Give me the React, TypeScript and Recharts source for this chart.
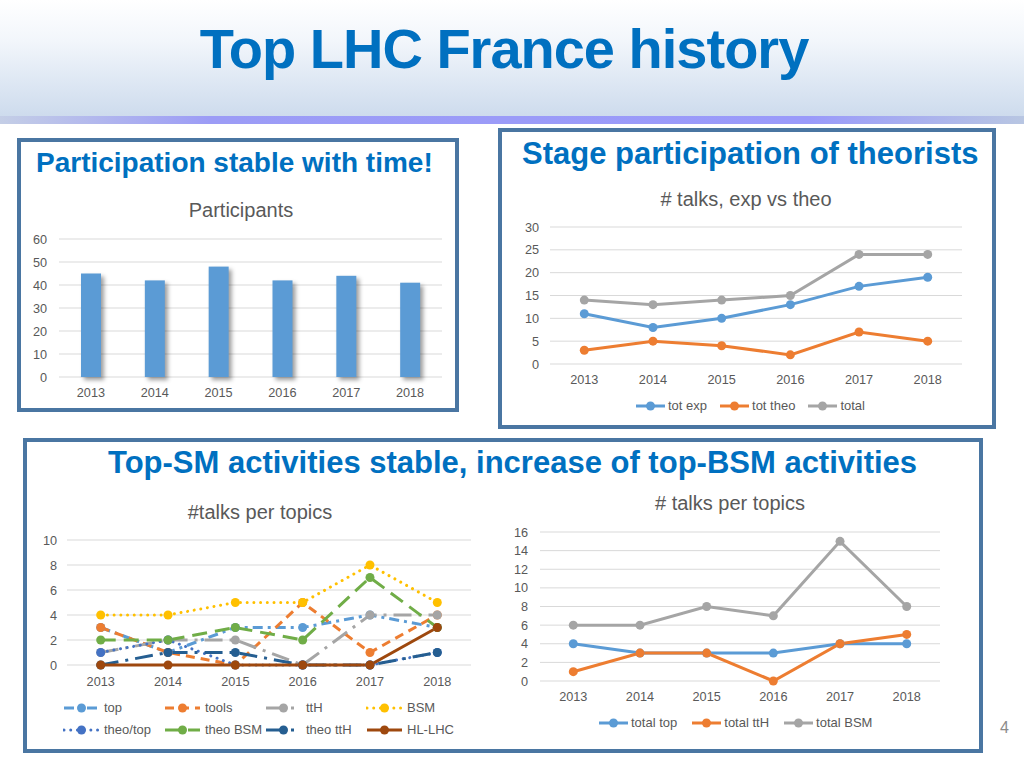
import { BarChart, Bar, LineChart, Line, XAxis, YAxis, CartesianGrid } from 'recharts';

const years = ['2013', '2014', '2015', '2016', '2017', '2018'];

// Participants per year
const participants = [45, 42, 48, 42, 44, 41];

// # talks, exp vs theo
const totExp = [11, 8, 10, 13, 17, 19];
const totTheo = [3, 5, 4, 2, 7, 5];
const totAll = [14, 13, 14, 15, 24, 24];

// #talks per topics (detail)
const topTalks = [3, 1, 3, 3, 4, 3];
const toolsTalks = [3, 1, 0, 5, 1, 4];
const tthTalks = [1, 2, 2, 0, 4, 4];
const bsmTalks = [4, 4, 5, 5, 8, 5];
const theoTopTalks = [1, 2, 0, 0, 0, 1];
const theoBsmTalks = [2, 2, 3, 2, 7, 3];
const theoTthTalks = [0, 1, 1, 0, 0, 1];
const hlLhcTalks = [0, 0, 0, 0, 0, 3];

// # talks per topics (totals)
const totalTop = [4, 3, 3, 3, 4, 4];
const totalTth = [1, 3, 3, 0, 4, 5];
const totalBsm = [6, 6, 8, 7, 15, 8];

const participantTicks = [0, 10, 20, 30, 40, 50, 60];
const expTheoTicks = [0, 5, 10, 15, 20, 25, 30];
const topicTicks = [0, 2, 4, 6, 8, 10];
const totalTicks = [0, 2, 4, 6, 8, 10, 12, 14, 16];

const BLUE = '#5B9BD5';
const ORANGE = '#ED7D31';
const GRAY = '#A5A5A5';
const TEXT = '#595959';
const GRID = '#D9D9D9';
const TITLE = '#0070C0';
const FONT = '"Liberation Sans", Arial, Helvetica, sans-serif';

const participationData = years.map((year, i) => ({ year, participants: participants[i] }));
const expTheoData = years.map((year, i) => ({ year, exp: totExp[i], theo: totTheo[i], total: totAll[i] }));
const topicData = years.map((year, i) => ({
  year,
  top: topTalks[i],
  tools: toolsTalks[i],
  ttH: tthTalks[i],
  BSM: bsmTalks[i],
  theoTop: theoTopTalks[i],
  theoBSM: theoBsmTalks[i],
  theoTtH: theoTthTalks[i],
  hlLhc: hlLhcTalks[i],
}));
const totalData = years.map((year, i) => ({ year, top: totalTop[i], ttH: totalTth[i], BSM: totalBsm[i] }));

const topicSeries = [
  { key: 'top', name: 'top', color: '#5B9BD5', dash: '10 5 3 5', cap: 'butt' },
  { key: 'tools', name: 'tools', color: '#ED7D31', dash: '9 6', cap: 'butt' },
  { key: 'ttH', name: 'ttH', color: '#A5A5A5', dash: '18 7 3 7', cap: 'butt' },
  { key: 'BSM', name: 'BSM', color: '#FFC000', dash: '0.01 6.7', cap: 'round' },
  { key: 'theoTop', name: 'theo/top', color: '#4472C4', dash: '0.01 6.7', cap: 'round' },
  { key: 'theoBSM', name: 'theo BSM', color: '#70AD47', dash: '15 8', cap: 'butt' },
  { key: 'theoTtH', name: 'theo ttH', color: '#255E91', dash: '18 7 3 7', cap: 'butt' },
  { key: 'hlLhc', name: 'HL-LHC', color: '#9E480E', dash: undefined, cap: 'butt' },
];

const tick = { fill: TEXT, fontSize: 12.7, fontFamily: FONT };

function LegendIcon({ color, width, dash, cap }: { color: string; width: number; dash?: string; cap?: string }) {
  return (
    <svg width={width} height={12} style={{ display: 'block', flex: 'none' }}>
      <line x1={1} y1={6} x2={width - 1} y2={6} stroke={color} strokeWidth={3}
        strokeDasharray={dash} strokeLinecap={cap as any} />
      <circle cx={width / 2} cy={6} r={4.5} fill={color} />
    </svg>
  );
}

function LegendItem({ color, label, width, dash, cap, gap }: any) {
  return (
    <div style={{ display: 'flex', alignItems: 'center', marginRight: gap }}>
      <LegendIcon color={color} width={width} dash={dash} cap={cap} />
      <span style={{ marginLeft: 2, fontSize: 13, color: TEXT, lineHeight: '14px', whiteSpace: 'nowrap' }}>{label}</span>
    </div>
  );
}

function ShadowBar(props: any) {
  const { x, y, width, height, fill } = props;
  return (
    <rect x={x} y={y} width={width} height={height} fill={fill}
      style={{ filter: 'drop-shadow(3px 3px 2px rgba(0,0,0,0.38))' }} />
  );
}

function Box({ left, top, width, height }: any) {
  return (
    <div style={{ position: 'absolute', left, top, width, height, border: '4px solid #4A76A2', boxSizing: 'border-box' }} />
  );
}

function Text({ left, top, width, size, bold, color, align, children }: any) {
  return (
    <div style={{
      position: 'absolute', left, top, width, fontSize: size, lineHeight: `${size}px`,
      fontWeight: bold ? 700 : 400, color, textAlign: align || 'left', whiteSpace: 'nowrap',
    }}>{children}</div>
  );
}

export default function App() {
  return (
    <div style={{ position: 'absolute', left: 0, top: 0, width: 1024, height: 768, background: '#fff', overflow: 'hidden', fontFamily: FONT }}>
      {/* header band */}
      <div style={{ position: 'absolute', left: 0, top: 0, width: 1024, height: 117, background: 'linear-gradient(to bottom, #ffffff 0%, #f2f6fb 35%, #cddbed 100%)' }} />
      <div style={{ position: 'absolute', left: 0, top: 116, width: 1024, height: 8, background: 'linear-gradient(to right, #c4cee6 0%, #9c9cf6 20.5%, #9a9afa 79%, #b8c6e2 100%)' }} />
      <div style={{ position: 'absolute', left: 0, top: 21, width: 1008, textAlign: 'center', fontSize: 56, lineHeight: '56px', fontWeight: 700, color: TITLE, letterSpacing: -1 }}>
        Top LHC France history
      </div>

      {/* box 1: participants */}
      <Box left={17} top={138} width={442} height={274} />
      <Text left={36} top={149} size={28} bold color={TITLE}>Participation stable with time!</Text>
      <Text left={91} top={200} width={300} size={20} color={TEXT} align="center">Participants</Text>
      <div style={{ position: 'absolute', left: 20, top: 230 }}>
        <BarChart width={430} height={175} data={participationData} margin={{ top: 9, right: 8, bottom: 8, left: 0 }}>
          <CartesianGrid vertical={false} stroke={GRID} />
          <XAxis dataKey="year" tick={tick} tickLine={false} axisLine={false} tickMargin={5} height={20} interval={0} />
          <YAxis domain={[0, 60]} ticks={participantTicks} interval={0} tick={tick} tickLine={false} axisLine={false} tickMargin={6} width={39} />
          <Bar dataKey="participants" fill={BLUE} barSize={20} shape={ShadowBar} isAnimationActive={false} />
        </BarChart>
      </div>

      {/* box 2: exp vs theo */}
      <Box left={498} top={128} width={498} height={301} />
      <Text left={522} top={138} size={31} bold color={TITLE}>Stage participation of theorists</Text>
      <Text left={596} top={189} width={300} size={20} color={TEXT} align="center"># talks, exp vs theo</Text>
      <div style={{ position: 'absolute', left: 500, top: 218 }}>
        <LineChart width={470} height={175} data={expTheoData} margin={{ top: 9, right: 8, bottom: 9, left: 10 }}>
          <CartesianGrid vertical={false} stroke={GRID} />
          <XAxis dataKey="year" tick={tick} tickLine={false} axisLine={false} tickMargin={5} height={20} interval={0} padding={{ left: 34.3, right: 34.3 }} />
          <YAxis domain={[0, 30]} ticks={expTheoTicks} interval={0} tick={tick} tickLine={false} axisLine={false} tickMargin={5} width={40} />
          <Line dataKey="exp" stroke={BLUE} strokeWidth={3} dot={{ r: 4.5, fill: BLUE, strokeWidth: 0 }} isAnimationActive={false} />
          <Line dataKey="theo" stroke={ORANGE} strokeWidth={3} dot={{ r: 4.5, fill: ORANGE, strokeWidth: 0 }} isAnimationActive={false} />
          <Line dataKey="total" stroke={GRAY} strokeWidth={3} dot={{ r: 4.5, fill: GRAY, strokeWidth: 0 }} isAnimationActive={false} />
        </LineChart>
      </div>
      <div style={{ position: 'absolute', left: 635, top: 399, display: 'flex', alignItems: 'center' }}>
        <LegendItem color={BLUE} label="tot exp" width={31} gap={12} />
        <LegendItem color={ORANGE} label="tot theo" width={31} gap={12} />
        <LegendItem color={GRAY} label="total" width={31} gap={0} />
      </div>

      {/* box 3: topics */}
      <Box left={23} top={438} width={960} height={315} />
      <Text left={108} top={447} size={31} bold color={TITLE}>Top-SM activities stable, increase of top-BSM activities</Text>
      <Text left={110} top={502} width={300} size={20} color={TEXT} align="center">#talks per topics</Text>
      <Text left={580} top={493} width={300} size={20} color={TEXT} align="center"># talks per topics</Text>

      <div style={{ position: 'absolute', left: 20, top: 530 }}>
        <LineChart width={460} height={175} data={topicData} margin={{ top: 10, right: 9, bottom: 20, left: 7 }}>
          <CartesianGrid vertical={false} stroke={GRID} />
          <XAxis dataKey="year" tick={tick} tickLine={false} axisLine={false} tickMargin={6} height={20} interval={0} padding={{ left: 33.7, right: 33.7 }} />
          <YAxis domain={[0, 10]} ticks={topicTicks} interval={0} tick={tick} tickLine={false} axisLine={false} tickMargin={4} width={40} />
          {topicSeries.map((s) => (
            <Line key={s.key} dataKey={s.key} name={s.name} stroke={s.color} strokeWidth={3}
              strokeDasharray={s.dash} strokeLinecap={s.cap as any}
              dot={{ r: 4.5, fill: s.color, strokeWidth: 0 }} isAnimationActive={false} />
          ))}
        </LineChart>
      </div>
      {[0, 1].map((row) => (
        <div key={row} style={{ position: 'absolute', left: 63, top: 701 + row * 22, display: 'flex', alignItems: 'center' }}>
          {topicSeries.slice(row * 4, row * 4 + 4).map((s) => (
            <div key={s.key} style={{ width: 101, display: 'flex', alignItems: 'center' }}>
              <LegendIcon color={s.color} width={37} dash={s.dash} cap={s.cap} />
              <span style={{ marginLeft: 4, fontSize: 13, color: TEXT, lineHeight: '14px', whiteSpace: 'nowrap' }}>{s.name}</span>
            </div>
          ))}
        </div>
      ))}

      <div style={{ position: 'absolute', left: 490, top: 522 }}>
        <LineChart width={460} height={190} data={totalData} margin={{ top: 10, right: 10, bottom: 11, left: 10 }}>
          <CartesianGrid vertical={false} stroke={GRID} />
          <XAxis dataKey="year" tick={tick} tickLine={false} axisLine={false} tickMargin={5} height={20} interval={0} padding={{ left: 33.3, right: 33.3 }} />
          <YAxis domain={[0, 16]} ticks={totalTicks} interval={0} tick={tick} tickLine={false} axisLine={false} tickMargin={6} width={40} />
          <Line dataKey="top" stroke={BLUE} strokeWidth={3} dot={{ r: 4.5, fill: BLUE, strokeWidth: 0 }} isAnimationActive={false} />
          <Line dataKey="ttH" stroke={ORANGE} strokeWidth={3} dot={{ r: 4.5, fill: ORANGE, strokeWidth: 0 }} isAnimationActive={false} />
          <Line dataKey="BSM" stroke={GRAY} strokeWidth={3} dot={{ r: 4.5, fill: GRAY, strokeWidth: 0 }} isAnimationActive={false} />
        </LineChart>
      </div>
      <div style={{ position: 'absolute', left: 598, top: 716, display: 'flex', alignItems: 'center' }}>
        <LegendItem color={BLUE} label="total top" width={31} gap={14} />
        <LegendItem color={ORANGE} label="total ttH" width={31} gap={14} />
        <LegendItem color={GRAY} label="total BSM" width={31} gap={0} />
      </div>

      <Text left={1000} top={720} size={16} color="#8B8B8B">4</Text>
    </div>
  );
}
